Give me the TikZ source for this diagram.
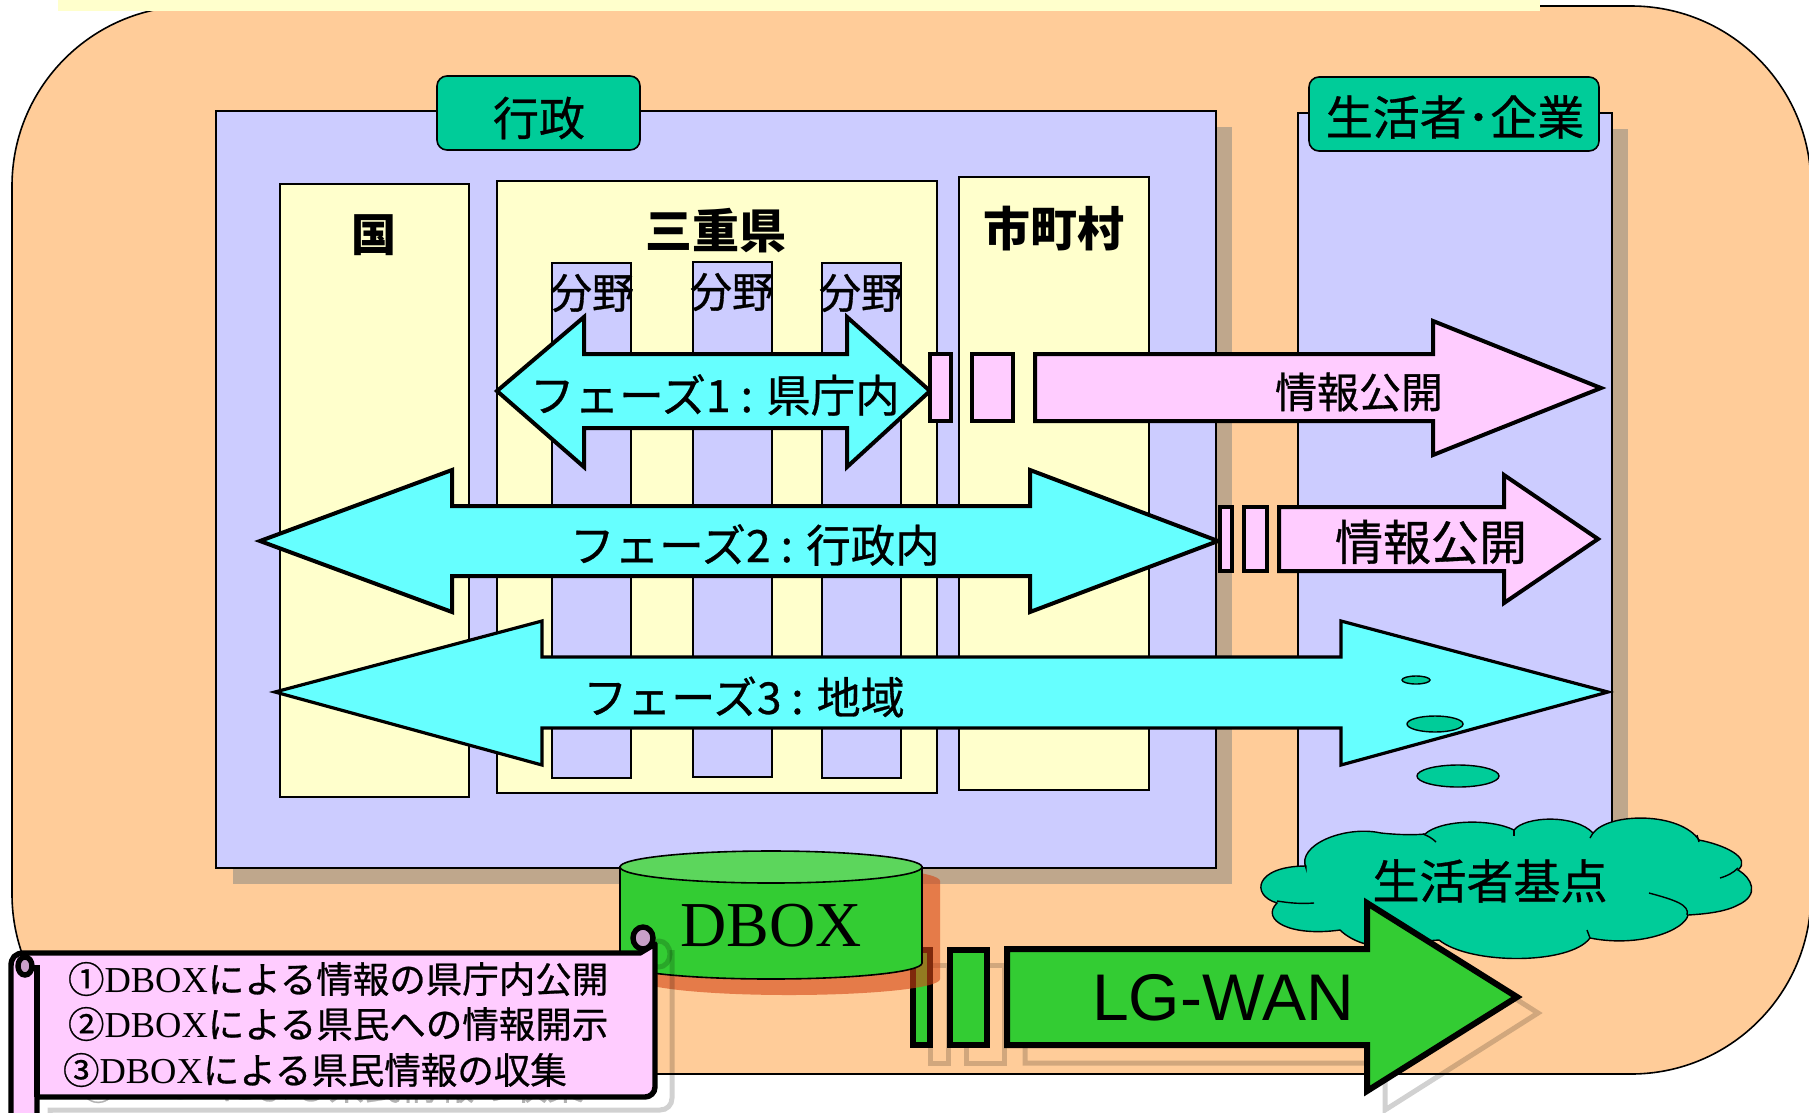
\documentclass[tikz,border=0pt]{standalone}
\usepackage{fontspec}
\setmainfont{Liberation Serif}
\newfontfamily\jp[FakeBold=0.7]{Noto Sans CJK JP}
\newfontfamily\jpb{Noto Sans CJK JP}
\newfontfamily\arialf{Liberation Sans}
\newcommand{\fsz}[1]{\fontsize{#1}{#1}\selectfont}
\definecolor{peach}{HTML}{FFCC99}
\definecolor{lav}{HTML}{CCCCFF}
\definecolor{lemon}{HTML}{FFFFCC}
\definecolor{teal2}{HTML}{00CC99}
\definecolor{cyan2}{HTML}{66FFFF}
\definecolor{pink2}{HTML}{FFCCFF}
\definecolor{green2}{HTML}{33CC33}
\definecolor{green3}{HTML}{5CD65C}
\definecolor{tan2}{HTML}{BFA78C}
\definecolor{curl}{HTML}{C8A0C8}
\definecolor{orange2}{RGB}{212,69,21}
\tikzset{
  thin1/.style={draw=black,line width=1.6pt},
  panel/.style={thin1,fill=lav},
  sub/.style={thin1,fill=lemon},
  shade/.style={fill=tan2,draw=none},
  tag/.style={thin1,fill=teal2,rounded corners=10pt},
  txt/.style={inner sep=0pt,outer sep=0pt,anchor=center,font=\jp\fsz{46}},
  cyanarrow/.style={draw=black,fill=cyan2,line width=4pt,miter limit=10},
  pinkarrow/.style={draw=black,fill=pink2,line width=4pt,miter limit=10},
  greenarrow/.style={draw=black,fill=green2,line width=6pt,miter limit=10},
  ghost/.style={draw=black,opacity=.18,line width=5pt},
  blob/.style={draw=black,line width=1.4pt,fill=teal2},
  scrollline/.style={draw=black,line width=5.4pt},
}
\begin{document}
\begin{tikzpicture}[x=1pt,y=-1pt]
\useasboundingbox (0,0) rectangle (1809,1112);
\clip (0,0) rectangle (1809,1112);
\fill[white] (0,0) rectangle (1809,1112);
% ground
\draw[thin1,fill=peach,rounded corners=180pt] (12,6) rectangle (1811,1074);
\fill[lemon] (58,0) rectangle (1540,11);
% panels
\fill[shade] (233,127) rectangle (1232,884);
\draw[panel] (216,111) rectangle (1216,868);
\fill[shade] (1314,129) rectangle (1628,886);
\draw[panel] (1298,113) rectangle (1612,870);
\draw[tag] (437,76) rectangle (640,150);
\node[txt] (gyosei) at (539,118) {行政};
\draw[tag] (1309,77) rectangle (1599,151);
\node[txt,font=\jp\fsz{47}] (seikatsu) at (1455,117) {生活者･企業};
% columns
\draw[sub] (280,184) rectangle (469,797);
\draw[sub] (497,181) rectangle (937,793);
\draw[sub] (959,177) rectangle (1149,790);
\draw[panel] (552,263) rectangle (631,778);
\draw[panel] (693,262) rectangle (772,777);
\draw[panel] (822,263) rectangle (901,778);
\node[txt,font=\jpb\bfseries\fsz{45}] (kuni) at (374,235) {国};
\node[txt,font=\jpb\bfseries\fsz{47}] (mie) at (716,231) {三重県};
\node[txt,font=\jpb\bfseries\fsz{47}] (shi) at (1054,229) {市町村};
\node[txt,font=\jp\fsz{42}] (bun1) at (592,293) {分野};
\node[txt,font=\jp\fsz{42}] (bun2) at (732,292) {分野};
\node[txt,font=\jp\fsz{42}] (bun3) at (861,293) {分野};
% phase 1
\draw[cyanarrow] (497,391) -- (584,317) -- (584,354) -- (847,354) -- (847,317) -- (930,391) -- (847,467) -- (847,428) -- (584,428) -- (584,467) -- cycle;
\draw[pinkarrow] (930,354) rectangle (951,421);
\draw[pinkarrow] (972,354) rectangle (1013,421);
\draw[pinkarrow] (1035,354) -- (1433,354) -- (1433,321) -- (1601,388) -- (1433,455) -- (1433,421) -- (1035,421) -- cycle;
\node[txt,font=\jp\fsz{44.5}] (ph1) at (715,395) {フェーズ1 : 県庁内};
\node[txt,font=\jp\fsz{42}] (pub1) at (1359,392) {情報公開};
% phase 2
\draw[cyanarrow] (260,541) -- (452,470) -- (452,506) -- (1030,506) -- (1030,470) -- (1218,541) -- (1030,612) -- (1030,576) -- (452,576) -- (452,612) -- cycle;
\draw[pinkarrow] (1220,507) rectangle (1232,571);
\draw[pinkarrow] (1244,507) rectangle (1267,571);
\draw[pinkarrow] (1279,507) -- (1504,507) -- (1504,475) -- (1598,539) -- (1504,603) -- (1504,571) -- (1279,571) -- cycle;
\node[txt,font=\jp\fsz{44.5}] (ph2) at (755,545) {フェーズ2 : 行政内};
\node[txt,font=\jp\fsz{48}] (pub2) at (1431,542) {情報公開};
% phase 3
\draw[cyanarrow,line width=3.2pt] (275,692) -- (542,621) -- (542,657) -- (1341,657) -- (1341,621) -- (1608,692) -- (1341,765) -- (1341,728) -- (542,728) -- (542,765) -- cycle;
\node[txt,font=\jp\fsz{44}] (ph3) at (744,697) {フェーズ3 : 地域};
\draw[blob] (1416,680) ellipse (14pt and 4pt);
\draw[blob] (1435,724) ellipse (28pt and 8pt);
\draw[blob] (1458,776) ellipse (41pt and 11pt);
% cloud
\draw[blob] (1306,868) .. controls (1296,845) and (1345,825) .. (1381,833)
 .. controls (1400,835) and (1415,835) .. (1425,834)
 .. controls (1440,820) and (1490,818) .. (1514,830)
 .. controls (1525,816) and (1575,814) .. (1593,833)
 .. controls (1610,812) and (1680,812) .. (1699,840)
 .. controls (1725,845) and (1752,858) .. (1738,870)
 .. controls (1752,878) and (1760,895) .. (1738,905)
 .. controls (1725,912) and (1705,914) .. (1688,915)
 .. controls (1685,930) and (1640,948) .. (1590,938)
 .. controls (1570,965) and (1470,965) .. (1439,940)
 -- (1370,945)
 .. controls (1355,942) and (1345,935) .. (1340,930)
 .. controls (1290,937) and (1260,920) .. (1277,903)
 .. controls (1250,895) and (1255,866) .. (1306,866) -- cycle;
\draw[line width=1.4pt] (1314,903) .. controls (1300,904) and (1290,903) .. (1277,901);
\draw[line width=1.4pt] (1436,842) .. controls (1432,838) and (1428,836) .. (1423,834);
\draw[line width=1.4pt] (1514,830) -- (1514,836);
\draw[line width=1.4pt] (1593,833) -- (1590,838);
\draw[line width=1.4pt] (1699,842) -- (1697,835);
\draw[line width=1.4pt] (1738,868) .. controls (1733,873) and (1727,876) .. (1720,878);
\draw[line width=1.4pt] (1649,893) .. controls (1675,900) and (1690,905) .. (1687,915);
\draw[line width=1.4pt] (1590,938) -- (1587,930);
\node[txt,font=\jp\fsz{47}] (kiten) at (1490,881) {生活者基点};
% LG-WAN ghost
\draw[ghost] (930,965) rectangle (948,1063);
\draw[ghost] (966,965) rectangle (1004,1063);
\draw[ghost] (1025,965) -- (1385,965) -- (1385,916) -- (1538,1013) -- (1385,1110) -- (1385,1063) -- (1025,1063) -- cycle;
% rect A under the cylinder shadow
\draw[greenarrow] (913,950) rectangle (930,1045);
% cylinder
\fill[orange2,fill opacity=.6] (638,881) .. controls (638,872) and (706,865) .. (789,865) .. controls (872,865) and (940,872) .. (940,881) -- (940,979) .. controls (940,988) and (872,995) .. (789,995) .. controls (706,995) and (638,988) .. (638,979) -- cycle;
\draw[thin1,fill=green2] (620,867) -- (620,963) .. controls (620,972) and (688,979) .. (771,979) .. controls (854,979) and (922,972) .. (922,963) -- (922,867) -- cycle;
\draw[thin1,fill=green3] (771,867) ellipse (151pt and 16pt);
\node[txt,font=\fsz{64}] (dbox) at (771,926) {DBOX};
% LG-WAN
\draw[greenarrow] (950,950) rectangle (987,1045);
\draw[greenarrow] (1007,949) -- (1367,949) -- (1367,903) -- (1517,997) -- (1367,1091) -- (1367,1045) -- (1007,1045) -- cycle;
\node[txt,font=\arialf\fsz{66}] (lg) at (1223,998) {LG-WAN};
% scroll ghost
\draw[ghost] (672,950) -- (672,1098) .. controls (672,1105) and (667,1110) .. (660,1110) -- (50,1110) -- (50,1125);
\draw[ghost] (659,954) ellipse (11pt and 13pt);
\node[txt,anchor=west,font=\fsz{36.5},text=black!30] (shadowline) at (80,1086) {{\jp ③}DBOX{\jp による県民情報の収集}};
% scroll
\draw[scrollline,fill=pink2,line join=round] (11,1125) -- (11,966) .. controls (11,958) and (15,953) .. (24,953) -- (640,953) -- (655,944) -- (655,1087) .. controls (655,1093) and (650,1097) .. (645,1097) -- (37,1097) -- (37,1125);
\draw[scrollline] (37,1097) -- (37,965);
\draw[scrollline,fill=curl] (25,966) ellipse (7pt and 9pt);
\draw[scrollline,fill=curl] (643,938) ellipse (10pt and 11pt);
\node[txt,anchor=west,font=\fsz{36.5}] (l1) at (68,979) {{\jp ①}DBOX{\jp による情報の県庁内公開}};
\node[txt,anchor=west,font=\fsz{36.5}] (l2) at (68,1024) {{\jp ②}DBOX{\jp による県民への情報開示}};
\node[txt,anchor=west,font=\fsz{36.5}] (l3) at (63,1070) {{\jp ③}DBOX{\jp による県民情報の収集}};
\end{tikzpicture}
\end{document}
